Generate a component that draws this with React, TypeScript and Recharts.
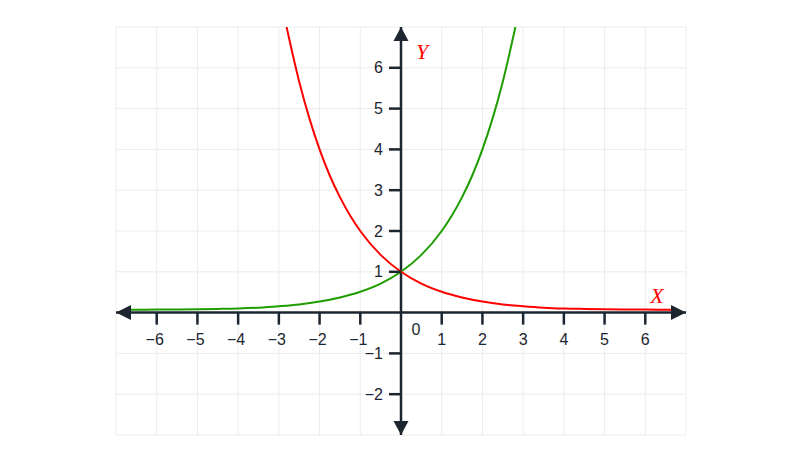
import React from "react";
import {
  ComposedChart,
  Line,
  XAxis,
  YAxis,
  CartesianGrid,
  ReferenceLine,
  ReferenceDot,
} from "recharts";

// Grid / domain
const xGrid = [-7, -6, -5, -4, -3, -2, -1, 0, 1, 2, 3, 4, 5, 6, 7];
const yGrid = [-3, -2, -1, 0, 1, 2, 3, 4, 5, 6, 7];

// Tick labels on the math axes
const xTickVals = [-6, -5, -4, -3, -2, -1, 1, 2, 3, 4, 5, 6];
const xTickLabels = ["−6", "−5", "−4", "−3", "−2", "−1", "1", "2", "3", "4", "5", "6"];
const yTickVals = [-2, -1, 1, 2, 3, 4, 5, 6];
const yTickLabels = ["−2", "−1", "1", "2", "3", "4", "5", "6"];

// Green curve (rising)
const greenX = [-6.65, -6, -5.5, -5, -4.5, -4, -3.5, -3, -2.5, -2, -1.5, -1, -0.5, 0, 0.5, 1, 1.25, 1.5, 1.75, 2, 2.25, 2.5, 2.81];
const greenY = [0.07, 0.074, 0.078, 0.083, 0.09, 0.1, 0.12, 0.155, 0.2, 0.27, 0.37, 0.51, 0.71, 1, 1.414, 2, 2.38, 2.83, 3.36, 4, 4.76, 5.66, 7.0];

// Red curve (falling)
const redX = [-2.81, -2.5, -2.25, -2, -1.75, -1.5, -1.25, -1, -0.5, 0, 0.5, 1, 1.5, 2, 2.5, 3, 3.5, 4, 4.5, 5, 5.5, 6, 6.65];
const redY = [7.0, 5.66, 4.76, 4, 3.36, 2.83, 2.38, 2, 1.414, 1, 0.71, 0.51, 0.37, 0.27, 0.2, 0.155, 0.12, 0.1, 0.09, 0.083, 0.078, 0.074, 0.07];

const greenData = greenX.map((x, i) => ({ x, y: greenY[i] }));
const redData = redX.map((x, i) => ({ x, y: redY[i] }));

const AXIS = "#1c2630";
const TICK_FONT = "'Liberation Sans', Arial, sans-serif";

const XTick = (label: string) => (p: any) => (
  <g>
    <line x1={p.cx} y1={p.cy} x2={p.cx} y2={p.cy + 12} stroke={AXIS} strokeWidth={2.5} />
    <text
      x={p.cx - (label.startsWith("−") ? 2 : 0)}
      y={p.cy + 27}
      textAnchor="middle"
      dominantBaseline="central"
      fontFamily={TICK_FONT}
      fontSize={16}
      fill={AXIS}
    >
      {label}
    </text>
  </g>
);

const YTick = (label: string) => (p: any) => (
  <g>
    <line x1={p.cx - 12} y1={p.cy} x2={p.cx} y2={p.cy} stroke={AXIS} strokeWidth={2.5} />
    <text
      x={p.cx - 18}
      y={p.cy}
      textAnchor="end"
      dominantBaseline="central"
      fontFamily={TICK_FONT}
      fontSize={16}
      fill={AXIS}
    >
      {label}
    </text>
  </g>
);

const ArrowUp = (p: any) => (
  <path d={`M${p.cx},${p.cy} L${p.cx - 7.5},${p.cy + 14} L${p.cx + 7.5},${p.cy + 14} Z`} fill={AXIS} />
);
const ArrowDown = (p: any) => (
  <path d={`M${p.cx},${p.cy} L${p.cx - 7.5},${p.cy - 14} L${p.cx + 7.5},${p.cy - 14} Z`} fill={AXIS} />
);
const ArrowLeft = (p: any) => (
  <path d={`M${p.cx},${p.cy} L${p.cx + 15},${p.cy - 7.5} L${p.cx + 15},${p.cy + 7.5} Z`} fill={AXIS} />
);
const ArrowRight = (p: any) => (
  <path d={`M${p.cx},${p.cy} L${p.cx - 15},${p.cy - 7.5} L${p.cx - 15},${p.cy + 7.5} Z`} fill={AXIS} />
);

const OriginLabel = (p: any) => (
  <text
    x={p.cx + 15}
    y={p.cy + 17}
    textAnchor="middle"
    dominantBaseline="central"
    fontFamily={TICK_FONT}
    fontSize={16}
    fill={AXIS}
  >
    0
  </text>
);

const AxisName = (name: string, dx: number, dy: number) => (p: any) => (
  <text
    x={p.cx + dx}
    y={p.cy + dy}
    textAnchor="middle"
    dominantBaseline="central"
    fontFamily="'Liberation Serif', 'DejaVu Serif', serif"
    fontStyle="italic"
    fontSize={22}
    fill="#ff0000"
  >
    {name}
  </text>
);

export default function App() {
  return (
    <div style={{ position: "absolute", left: 0, top: 0, width: 800, height: 458, background: "#fff" }}>
      <ComposedChart
        width={800}
        height={458}
        margin={{ top: 27, right: 114, bottom: 23, left: 116 }}
      >
        <XAxis type="number" dataKey="x" domain={[-7, 7]} ticks={xGrid} hide allowDataOverflow />
        <YAxis type="number" dataKey="y" domain={[-3, 7]} ticks={yGrid} hide allowDataOverflow />
        <CartesianGrid stroke="#ececec" strokeWidth={1} />
        <ReferenceLine x={0} stroke={AXIS} strokeWidth={2.5} />
        <ReferenceLine y={0} stroke={AXIS} strokeWidth={2.5} />
        {xTickVals.map((v, i) => (
          <ReferenceDot key={"xt" + v} x={v} y={0} r={0} shape={XTick(xTickLabels[i])} />
        ))}
        {yTickVals.map((v, i) => (
          <ReferenceDot key={"yt" + v} x={0} y={v} r={0} shape={YTick(yTickLabels[i])} />
        ))}
        <ReferenceDot x={0} y={0} r={0} shape={OriginLabel} />
        <Line
          data={greenData}
          dataKey="y"
          type="monotone"
          stroke="#1f9d00"
          strokeWidth={2}
          dot={false}
          isAnimationActive={false}
        />
        <Line
          data={redData}
          dataKey="y"
          type="monotone"
          stroke="#ff0000"
          strokeWidth={2}
          dot={false}
          isAnimationActive={false}
        />
        <ReferenceDot x={0} y={7} r={0} shape={ArrowUp} />
        <ReferenceDot x={0} y={-3} r={0} shape={ArrowDown} />
        <ReferenceDot x={-7} y={0} r={0} shape={ArrowLeft} />
        <ReferenceDot x={7} y={0} r={0} shape={ArrowRight} />
        <ReferenceDot x={0} y={7} r={0} shape={AxisName("Y", 21, 24)} />
        <ReferenceDot x={7} y={0} r={0} shape={AxisName("X", -29, -17)} />
      </ComposedChart>
    </div>
  );
}
